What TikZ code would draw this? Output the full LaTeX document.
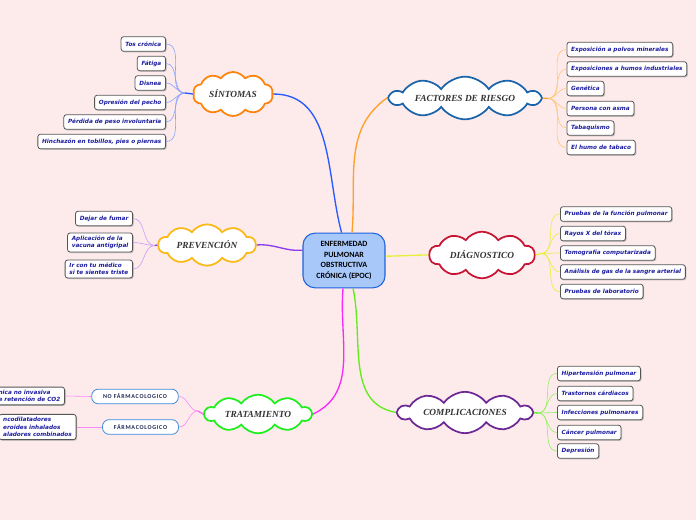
\documentclass[tikz,border=0pt]{standalone}
\usepackage{fontspec}
\setmainfont{Liberation Serif}
\newfontfamily\leaffont{DejaVu Sans}
\newfontfamily\rootfont{Carlito}
\usetikzlibrary{shapes.symbols, shadows, positioning}
\definecolor{bgpink}{RGB}{253,234,234}
\definecolor{rootfill}{RGB}{168,200,250}
\definecolor{rootline}{RGB}{30,100,220}
\definecolor{leafink}{RGB}{28,28,160}
\definecolor{leafline}{RGB}{85,85,85}
\definecolor{pillline}{RGB}{60,140,220}
\definecolor{pillink}{RGB}{30,40,80}
\definecolor{cblue}{RGB}{40,90,255}
\definecolor{corange}{RGB}{255,160,40}
\definecolor{cpurple}{RGB}{140,60,240}
\definecolor{cyellow}{RGB}{230,240,60}
\definecolor{cgreen}{RGB}{100,235,30}
\definecolor{cmagenta}{RGB}{250,40,250}
\definecolor{sintline}{RGB}{255,130,10}
\definecolor{factline}{RGB}{25,100,170}
\definecolor{prevline}{RGB}{250,185,20}
\definecolor{diagline}{RGB}{200,20,50}
\definecolor{compline}{RGB}{110,40,150}
\definecolor{tratline}{RGB}{30,240,30}
\tikzset{
  rootnode/.style={rectangle, draw=rootline, fill=rootfill, rounded corners=9pt,
    minimum width=61.5pt, minimum height=41pt, align=center, line width=0.8pt,
    font=\rootfont\bfseries\fontsize{6}{8.2}\selectfont},
  cloudnode/.style={cloud, cloud puffs=10, cloud puff arc=110, cloud ignores aspect,
    fill=white, line width=1.3pt, inner sep=0pt, text=black!80,
    font=\bfseries\itshape\fontsize{7}{8}\selectfont},
  leaf/.style={rectangle, rounded corners=2pt, draw=leafline, fill=white,
    line width=0.6pt, align=left, minimum height=11pt,
    inner xsep=3.2pt, inner ysep=2.2pt, text=leafink,
    drop shadow={shadow xshift=0.8pt, shadow yshift=-0.8pt, fill=black!45},
    font=\leaffont\bfseries\itshape\fontsize{4.3}{5.6}\selectfont},
  pill/.style={rectangle, rounded corners=5pt, draw=pillline, fill=white,
    line width=0.6pt, minimum height=11pt, text=pillink,
    font=\rootfont\bfseries\addfontfeatures{LetterSpace=12}\fontsize{4.5}{5}\selectfont},
  mainline/.style={line width=1pt},
  subline/.style={line width=0.45pt}
}
\begin{document}
\begin{tikzpicture}[x=0.75pt, y=-0.75pt]
  \useasboundingbox (0,0) rectangle (696,520);
  \fill[bgpink] (0,0) rectangle (696,520);

  % Centre
  \node[rootnode] (root) at (344,260.5) {ENFERMEDAD\\PULMONAR\\OBSTRUCTIVA\\CRÓNICA (EPOC)};

  % Main topics
  \node[cloudnode, draw=sintline, minimum width=60pt, minimum height=33pt] (sint) at (233,94) {SÍNTOMAS};
  \node[cloudnode, draw=factline, minimum width=112pt, minimum height=32pt] (fact) at (465,98) {FACTORES DE RIESGO};
  \node[cloudnode, draw=prevline, minimum width=73pt, minimum height=31pt] (prev) at (207,245) {PREVENCIÓN};
  \node[cloudnode, draw=diagline, minimum width=79pt, minimum height=35pt] (diag) at (482,255) {DIÁGNOSTICO};
  \node[cloudnode, draw=compline, minimum width=100pt, minimum height=31pt] (comp) at (465,412.5) {COMPLICACIONES};
  \node[cloudnode, draw=tratline, minimum width=80pt, minimum height=29pt] (trat) at (258,414) {TRATAMIENTO};

  % Main connectors
  \draw[mainline, cblue] (root.95) to[out=105, in=0] (sint.east);
  \draw[mainline, corange] (root.74) to[out=85, in=215] (fact.west);
  \draw[mainline, cpurple] (root.166) to[out=185, in=5] (prev.east);
  \draw[mainline, cyellow] (root.6) to[out=0, in=180] (diag.west);
  \draw[mainline, cgreen] (root.288) to[out=-78, in=170] (comp.west);
  \draw[mainline, cmagenta] (root.268) to[out=-95, in=25] (trat.east);

  % Síntomas
  \node[leaf, anchor=east] (s1) at (166,44) {Tos crónica};
  \node[leaf, anchor=east] (s2) at (166,63.5) {Fátiga};
  \node[leaf, anchor=east] (s3) at (166,83) {Disnea};
  \node[leaf, anchor=east] (s4) at (166,102.5) {Opresión del pecho};
  \node[leaf, anchor=east] (s5) at (166,122) {Pérdida de peso involuntaria};
  \node[leaf, anchor=east] (s6) at (166,141.5) {Hinchazón en tobillos, pies o piernas};
  \coordinate (sinthub) at (185,93);
  \foreach \i in {1,...,6}
    \draw[subline, cblue!55] (s\i.east) to[out=0, in=180] (sinthub);
  \draw[mainline, cblue] (sinthub) -- (sint.west);

  % Factores de riesgo
  \node[leaf, anchor=west] (f1) at (566.5,49.5) {Exposición a polvos minerales};
  \node[leaf, anchor=west] (f2) at (566.5,69) {Exposiciones a humos industriales};
  \node[leaf, anchor=west] (f3) at (566.5,88.5) {Genética};
  \node[leaf, anchor=west] (f4) at (566.5,108.5) {Persona con asma};
  \node[leaf, anchor=west] (f5) at (566.5,128) {Tabaquismo};
  \node[leaf, anchor=west] (f6) at (566.5,147.5) {El humo de tabaco};
  \coordinate (facthub) at (548,98.5);
  \foreach \i in {1,...,6}
    \draw[subline, corange!60] (facthub) to[out=0, in=180] (f\i.west);
  \draw[mainline, corange] (fact.east) -- (facthub);

  % Prevención
  \node[leaf, anchor=east] (p1) at (133,218.5) {Dejar de fumar};
  \node[leaf, anchor=east] (p2) at (133,242.5) {Aplicación de la\\vacuna antigripal};
  \node[leaf, anchor=east] (p3) at (133,269) {Ir con tu médico\\si te sientes triste};
  \coordinate (prevhub) at (155,245.5);
  \foreach \i in {1,...,3}
    \draw[subline, cpurple!50] (p\i.east) to[out=0, in=180] (prevhub);
  \draw[mainline, cpurple] (prevhub) -- (prev.west);

  % Diágnostico
  \node[leaf, anchor=west] (d1) at (560,214) {Pruebas de la función pulmonar};
  \node[leaf, anchor=west] (d2) at (560,233.5) {Rayos X del tórax};
  \node[leaf, anchor=west] (d3) at (560,253) {Tomografía computarizada};
  \node[leaf, anchor=west] (d4) at (560,272) {Análisis de gas de la sangre arterial};
  \node[leaf, anchor=west] (d5) at (560,291.5) {Pruebas de laboratorio};
  \coordinate (diaghub) at (541,253.5);
  \foreach \i in {1,...,5}
    \draw[subline, cyellow] (diaghub) to[out=0, in=180] (d\i.west);
  \draw[mainline, cyellow] (diag.east) -- (diaghub);

  % Complicaciones
  \node[leaf, anchor=west] (c1) at (557,373.5) {Hipertensión pulmonar};
  \node[leaf, anchor=west] (c2) at (557,393.5) {Trastornos cárdiacos};
  \node[leaf, anchor=west] (c3) at (557,412.5) {Infecciones pulmonares};
  \node[leaf, anchor=west] (c4) at (557,432.5) {Cáncer pulmonar};
  \node[leaf, anchor=west] (c5) at (557,451) {Depresión};
  \coordinate (comphub) at (538,413);
  \foreach \i in {1,...,5}
    \draw[subline, cgreen!70] (comphub) to[out=0, in=180] (c\i.west);
  \draw[mainline, cgreen] (comp.east) -- (comphub);

  % Tratamiento
  \node[pill, minimum width=65pt] (nofarm) at (135,396.5) {NO FÁRMACOLOGICO};
  \node[pill, minimum width=57pt] (farm) at (140.5,427) {FÁRMACOLOGICO};
  \node[leaf, anchor=east] (t1) at (65,396) {nica no invasiva\\e retención de CO2};
  \node[leaf, anchor=east] (t2) at (76.5,427) {ncodilatadores\\eroides inhalados\\aladores combinados};
  \coordinate (trathub) at (198,411);
  \draw[subline, cmagenta!55] (t1.east) -- (nofarm.west);
  \draw[subline, cmagenta!55] (t2.east) -- (farm.west);
  \draw[subline, cmagenta!55] (nofarm.east) to[out=0, in=180] (trathub);
  \draw[subline, cmagenta!55] (farm.east) to[out=0, in=180] (trathub);
  \draw[mainline, cmagenta!70] (trathub) -- (trat.west);
\end{tikzpicture}
\end{document}
